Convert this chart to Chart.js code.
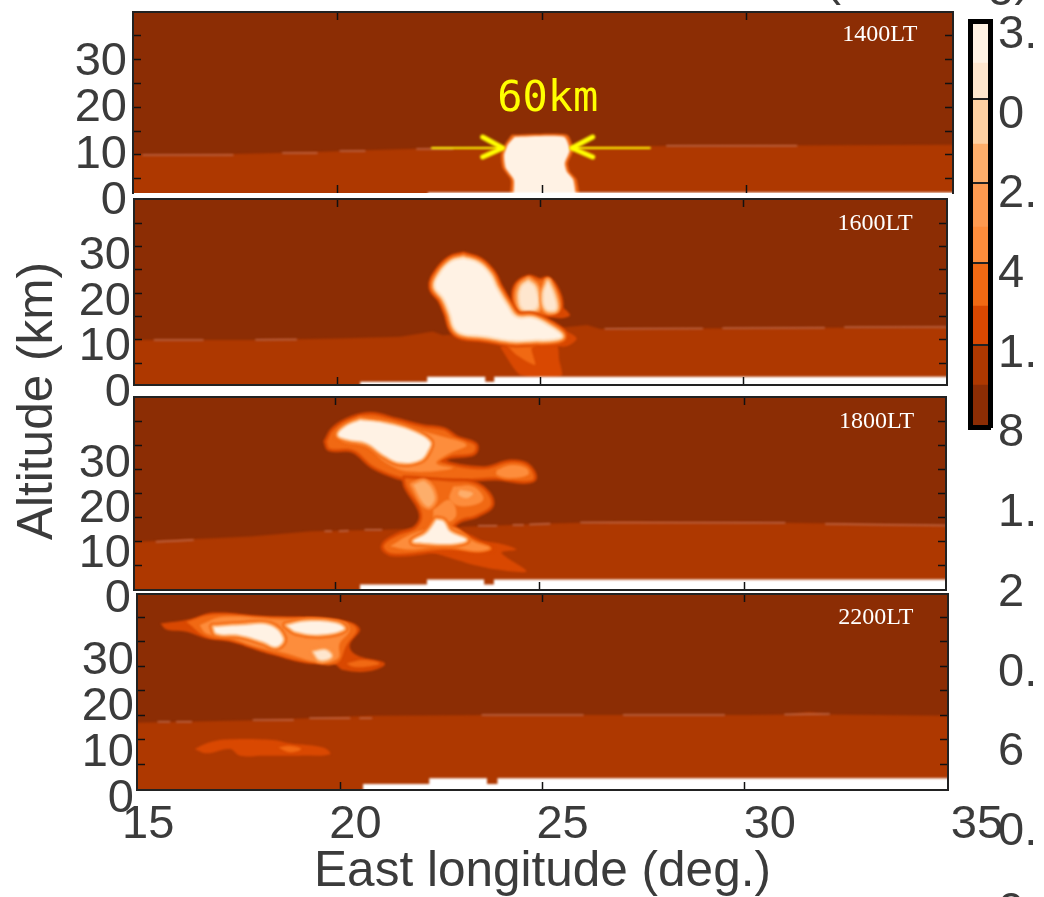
<!DOCTYPE html>
<html>
<head>
<meta charset="utf-8">
<title>Plume cross sections</title>
<script src="https://cdn.jsdelivr.net/npm/chart.js@4"></script>
<style>
body { margin: 0; background: #fff; overflow: hidden; }
canvas { position: absolute; left: 0; top: 0; }
</style>
</head>
<body>
<canvas id="p1" width="1044" height="897"></canvas>
<canvas id="p2" width="1044" height="897"></canvas>
<canvas id="p3" width="1044" height="897"></canvas>
<canvas id="p4" width="1044" height="897"></canvas>
<canvas id="bar" width="1044" height="897"></canvas>
<script>
// axis ticks and labels
const lonTicks = [20, 25, 30];
const altTicks = [5, 10, 15, 20, 25, 30, 35];
const altLabels = [0, 10, 20, 30];
const lonLabels = [15, 20, 25, 30, 35];
const barLabels = ['3.', '0', '2.', '4', '1.', '8', '1.', '2', '0.', '6', '0.', '0'];

// colour bar, bottom to top
const barBands = [0.311, 0.295, 0.289, 0.318, 0.266, 0.326, 0.288, 0.333, 0.266, 0.308];
const barLines = [0.606, 1.213, 1.805, 2.426];
const barColors = ['#8c2d04', '#ae3800', '#d94801', '#f16913', '#fd8d3c', '#fd9a50', '#fdae6b', '#fdd0a2', '#fee6ce', '#fff2e4'];

// 1400LT outlines, [lon, alt]
const p1Layer = [[14.5, -1], [14.5, 10], [17, 10.1], [19, 10.5], [21.5, 11.2], [24, 11.7], [27.7, 11.9], [35.5, 12.15], [35.5, -1]];
const p1Ground = [[22.2, 0], [22.2, 2.2], [35.5, 2.2], [35.5, 0]];
const p1Dashes = [
  [[15.23, 10], [17.43, 10]], [[18.65, 10.4], [19.49, 10.4]], [[20.05, 10.83], [20.66, 10.83]],
  [[21.93, 11.25], [22.81, 11.25]], [[28.04, 11.94], [31.22, 11.94]]
];
const p1Outer = [[24.25, 14.2], [25.6, 14.2], [25.75, 11], [25.62, 8.3], [25.67, 6.5], [25.84, 4.8], [25.87, 0], [24.25, 0], [24.23, 4.8], [24.03, 7.3], [23.99, 10], [24.08, 12.1]];
const p1Core = [[24.32, 13.8], [25.53, 13.8], [25.67, 11], [25.55, 8.3], [25.6, 6.5], [25.76, 4.8], [25.78, 0], [24.33, 0], [24.3, 4.8], [24.1, 7.3], [24.06, 10], [24.15, 12.1]];
const arrowShaftL = [[22.3, 11.46], [24, 11.46]];
const arrowHeadL = [[23.54, 13.75], [24.03, 11.46], [23.54, 9.58]];
const arrowShaftR = [[27.63, 11.46], [25.75, 11.46]];
const arrowHeadR = [[26.23, 13.75], [25.72, 11.46], [26.23, 9.58]];

// 1600LT
const p2Layer = [[14.5, -1], [14.5, 10], [18, 10], [20, 10.3], [21.55, 10.7], [22.36, 11.8], [22.6, 11], [25.67, 12.8], [26.16, 13.2], [26.48, 12.35], [30, 12.5], [35.5, 12.8], [35.5, -1]];
const p2Ground = [[20.57, -1], [20.57, 1.05], [22.22, 1.05], [22.22, 2.12], [23.65, 2.12], [23.65, 1.05], [23.87, 1.05], [23.87, 2.12], [35.5, 2.12], [35.5, -1]];
const p2Dashes = [[[15.5, 10], [16.7, 10]], [[18, 10.05], [19, 10.1]], [[26.6, 12.4], [29, 12.45]], [[29.5, 12.5], [32, 12.6]], [[32.5, 12.7], [35, 12.8]]];
const p2Plume = [[24.01, 8.58], [24.51, 2.5], [25.53, 2.3], [25.47, 5.72], [25.41, 9.29], [24.83, 10]];
const p2Wedge = [[24.18, 8.94], [24.42, 6.8], [24.88, 4.65], [24.79, 8.22], [25, 9.29], [24.42, 9.65]];
const p2Tip = [[25.41, 12.86], [25.9, 10.37], [25.61, 8.58], [25.16, 9.65]];
const p2Tail = [[24.42, 16.43], [25.41, 17.5], [25.74, 15.36], [25.49, 14.65], [24.83, 15.72]];
const p2Core = [[23.11, 27.5], [23.48, 26.43], [23.77, 23.93], [23.93, 21.08], [24.18, 17.5], [24.42, 14.86], [24.83, 14.65], [25.24, 12.86], [25.53, 10.86], [25.33, 10.15], [24.83, 10.01], [24.34, 9.87], [23.6, 10.86], [23.11, 11.29], [22.9, 12.51], [22.78, 15.72], [22.62, 18.93], [22.41, 21.43], [22.54, 24.29], [22.82, 26.79]];
const p2LobeBack = [[24.34, 16.43], [24.38, 21.43], [24.71, 23.57], [25, 22.86], [25.2, 23.22], [25.41, 21.08], [25.53, 17.5], [25.41, 15.72], [24.83, 15.36]];
const p2Lobe1 = [[24.71, 22.5], [24.88, 21.08], [24.92, 17], [24.59, 16.6], [24.49, 18.93], [24.55, 21.43]];
const p2Lobe2 = [[25.19, 22.5], [25.34, 19.65], [25.39, 16.6], [25.15, 16.6], [25.08, 19.65]];

// 1800LT
const p3Layer = [[14.5, -1], [14.5, 9.8], [17.9, 11.1], [19.4, 12.2], [21.15, 12.5], [23.3, 13.2], [25.25, 13.8], [27, 14.2], [31.4, 13.9], [35.5, 13.4], [35.5, -1]];
const p3Ground = [[20.59, -1], [20.59, 1.14], [22.23, 1.14], [22.23, 2.17], [23.63, 2.17], [23.63, 1.14], [23.87, 1.14], [23.87, 2.17], [35.5, 2.17], [35.5, -1]];
const p3Dashes = [[[15.6, 10], [16.5, 10.4]], [[19.73, 12.2], [19.89, 12.2]], [[20.08, 12.2], [20.3, 12.3]], [[20.71, 12.53], [21.12, 12.53]], [[23.49, 13.36], [23.94, 13.36]], [[24.34, 13.5], [24.59, 13.5]], [[24.75, 13.6], [25.24, 13.75]], [[26, 14], [31, 13.95]], [[32, 13.7], [35, 13.4]]];
const p3Wedge = [[22.14, 8.39], [23.2, 10.11], [23.94, 9.77], [24.43, 8.39], [24.06, 7.7], [24.67, 3.9], [23.94, 4.25], [23.2, 5.63]];
const p3Arm = [[19.77, 30.82], [19.95, 33.37], [20.42, 35.65], [20.87, 36.34], [21.48, 35.16], [22.14, 33.78], [22.63, 33.23], [22.95, 31.5], [23.4, 30.12], [23.36, 28.54], [22.79, 27.85], [22.55, 26.67], [23.61, 25.09], [24.26, 26.47], [24.67, 25.85], [24.85, 23.22], [24.59, 22.67], [23.94, 23.36], [23.12, 23.02], [21.81, 23.22], [21.53, 23.57], [20.91, 25.78], [20.42, 29.09], [19.85, 29.4]];
const p3Waist = [[21.69, 23.22], [22.79, 22.53], [23.45, 21.85], [23.81, 18.05], [23.45, 15.64], [23.04, 14.6], [22.87, 12.88], [23.45, 10.12], [23.81, 8.39], [22.63, 8.39], [21.4, 7.56], [21.17, 9.08], [21.48, 11.15], [21.97, 12.88], [22.1, 15.98], [21.73, 21.5]];
const p3LowerMid = [[21.32, 9.08], [21.81, 11.5], [22.22, 12.53], [22.87, 12.88], [23.36, 10.11], [23.77, 8.73], [23.45, 8.04], [22.63, 9.08], [21.81, 8.39]];
const p3ArmMid = [[20.1, 32.54], [20.59, 35.3], [21.81, 33.57], [22.63, 31.85], [23.2, 30.12], [22.79, 28.4], [22.46, 26.33], [22.87, 25.29], [21.81, 24.6], [21.24, 26.33], [20.75, 29.78], [20.18, 30.82]];
const p3ArmTip = [[23.94, 24.95], [24.3, 25.98], [24.67, 25.29], [24.71, 23.92], [24.26, 23.22], [23.94, 23.92]];
const p3Link = [[22.38, 16.67], [22.79, 18.74], [22.95, 15.64], [22.71, 13.91], [22.42, 14.26]];
const p3WaistL = [[21.89, 21.85], [22.18, 22.53], [22.42, 19.43], [22.3, 17.36], [22.14, 18.05]];
const p3WaistR = [[22.87, 21.5], [23.36, 21.5], [23.61, 18.74], [23.12, 17.36], [22.79, 18.74]];
const p3WaistCore = [[23.04, 20.81], [23.36, 20.12], [23.2, 19.09], [23, 19.77]];
const p3Core = [[20.59, 35.3], [21.24, 34.61], [21.81, 33.23], [22.3, 30.82], [22.26, 29.09], [22.06, 27.02], [21.57, 26.47], [21.16, 28.05], [20.75, 30.47], [20.26, 31.3], [20.05, 32.2], [20.22, 33.92]];
const p3LowerCore = [[22.46, 14.6], [22.63, 14.26], [22.79, 12.18], [23.2, 10.46], [22.87, 9.63], [22.14, 9.77], [21.89, 10.12], [22.22, 11.84]];

// 2200LT
const p4Layer = [[14.5, -1], [14.5, 13.4], [17.9, 14], [19.2, 14.4], [20.7, 14.9], [24, 15.1], [30.1, 15.1], [31.1, 15.2], [31.6, 15.7], [32.1, 15.2], [35.5, 14.9], [35.5, -1]];
const p4Ground = [[20.55, -1], [20.55, 0.98], [22.19, 0.98], [22.19, 2.14], [23.62, 2.14], [23.62, 0.98], [23.88, 0.98], [23.88, 2.14], [35.5, 2.14], [35.5, -1]];
const p4Dashes = [[[15.47, 13.71], [15.76, 13.71]], [[15.93, 13.71], [16.3, 13.71]], [[17.83, 14.05], [18.82, 14.05]], [[19.23, 14.39], [20.22, 14.39]], [[20.47, 14.39], [20.76, 14.39]], [[23.5, 15.1], [26, 15.1]], [[27, 15.1], [29.5, 15.1]], [[31, 15.2], [32.1, 15.3]]];
const p4Outer = [[15.53, 33.77], [16.26, 34.65], [16.84, 36.01], [18.07, 35.33], [19.89, 34.65], [20.47, 32.75], [20.22, 29.35], [20.39, 27.31], [21.09, 25.61], [20.72, 24.05], [20.06, 24.25], [19.81, 25.61], [19.15, 25.61], [18.32, 27.31], [17.91, 28.33], [17.25, 30.03], [16.67, 30.71], [16.17, 32.07], [15.68, 32.55]];
const p4Inner = [[16.17, 34.11], [16.84, 35.61], [18.07, 35.13], [19.89, 34.45], [20.39, 32.75], [20.14, 29.35], [19.89, 25.61], [19.15, 25.95], [18.32, 27.65], [17.91, 28.67], [17.25, 30.37], [16.67, 31.05]];
const p4Mid = [[16.5, 33.43], [17.08, 35.13], [18.4, 34.65], [20.06, 34.11], [20.22, 32.41], [19.97, 29.69], [19.93, 26.63], [19.4, 25.95], [18.65, 27.65], [17.91, 29.01], [17.17, 31.05], [16.67, 31.73]];
const p4Tip = [[20.14, 25.61], [20.55, 26.29], [20.96, 25.61], [20.63, 24.93], [20.3, 24.93]];
const p4Core1 = [[16.84, 33.09], [17.5, 33.43], [18.24, 33.43], [18.57, 30.71], [18.4, 29.01], [18.07, 30.03], [17.5, 31.39], [16.92, 31.73]];
const p4Core2 = [[18.65, 33.43], [19.15, 34.25], [19.91, 33.77], [20.08, 32.61], [19.5, 31.53], [18.9, 32.07]];
const p4Core3 = [[19.31, 27.99], [19.64, 28.33], [19.77, 26.97], [19.48, 26.29]];
const p4Low = [[16.38, 8.13], [16.75, 9.49], [17.25, 10.11], [18.32, 9.97], [18.73, 9.29], [19.56, 8.41], [19.73, 7.05], [18.98, 6.77], [18.07, 6.77], [17.5, 6.77], [17.25, 8.13], [16.67, 7.25]];
const p4LowCore = [[18.45, 8.41], [18.73, 8.81], [19.02, 8.13], [18.73, 7.45]];

const INK = '#3b3b3b';
const SANS = '"Liberation Sans", Arial, sans-serif';
const DARK = barColors[0], LAYER = barColors[1], C2 = barColors[2], C3 = barColors[3], C4 = barColors[4], C6 = barColors[6], C7 = barColors[7], C8 = barColors[8], CREAM = barColors[9];
const RIM = [[13, C2], [10, C3], [7, C4], [4, C7]];
const RIM_SMALL = [[8, C3], [5, C4], [2, C6]];

function toXY(pts, close) {
  const list = pts.map(function (p) { return { x: p[0], y: p[1] }; });
  if (close) list.push(list[0]);
  return list;
}

function area(pts, color, tension) {
  return { data: toXY(pts, true), showLine: true, fill: 'shape', backgroundColor: color, borderColor: 'transparent', borderWidth: 0, pointRadius: 0, tension: tension || 0 };
}

function edge(pts, color, width, close) {
  return { data: toXY(pts, close), showLine: true, fill: false, borderColor: color, borderWidth: width, pointRadius: 0, tension: close ? 0.4 : 0, borderCapStyle: 'round', borderJoinStyle: 'round' };
}

// smooth filled contour with rings drawn under it
function blob(pts, color, rims) {
  const sets = (rims || []).map(function (r) { return edge(pts, r[1], r[0], true); });
  sets.push(area(pts, color, 0.4));
  return sets;
}

function dashes(list) {
  return list.map(function (d) { return edge(d, '#c06a4c', 1.5, false); });
}

function fixedTicks(values) {
  return function (scale) {
    scale.ticks = values.map(function (v) { return { value: v }; });
  };
}

// the axes keep their own size, the layout padding sets the plot area
function fixSize(scale, size) {
  if (scale.isHorizontal()) scale.height = size; else scale.width = size;
  scale.paddingLeft = scale.paddingRight = scale.paddingTop = scale.paddingBottom = 0;
}

function tickAxis(position, min, max, values, showBorder) {
  return {
    type: 'linear', position: position, min: min, max: max,
    afterBuildTicks: fixedTicks(values),
    afterFit: function (s) { fixSize(s, 0); },
    ticks: { display: false },
    grid: { drawOnChartArea: false, tickLength: -8, tickColor: '#111', tickWidth: 1.5, z: 1 },
    border: { display: showBorder !== false, color: '#222', width: 2, z: 1 }
  };
}

function makePanel(cfg) {
  const sets = cfg.layers.slice();
  sets.forEach(function (d, i) { d.order = sets.length - i; d.clip = 0; });
  const scales = {
    x: tickAxis('bottom', cfg.lon[0], cfg.lon[1], lonTicks, cfg.bottomBorder),
    xTop: tickAxis('top', cfg.lon[0], cfg.lon[1], lonTicks),
    y: tickAxis('left', cfg.alt[0], cfg.alt[1], altTicks),
    yRight: tickAxis('right', cfg.alt[0], cfg.alt[1], altTicks),
    yLabel: {
      type: 'linear', position: 'left', weight: 5, min: cfg.label[0], max: cfg.label[1],
      afterBuildTicks: fixedTicks(altLabels),
      afterFit: function (s) { fixSize(s, cfg.box[0]); },
      ticks: { autoSkip: false, maxRotation: 0, padding: cfg.labelPad, color: INK, font: { family: SANS, size: 47 }, callback: function (v) { return String(v); } },
      grid: { display: false, drawTicks: false }, border: { display: false }
    }
  };
  const bottomRoom = 897 - cfg.box[3];
  if (cfg.lonAxis) {
    scales.xLabel = {
      type: 'linear', position: 'bottom', weight: 5, min: cfg.lonAxis[0], max: cfg.lonAxis[1],
      afterBuildTicks: fixedTicks(lonLabels),
      afterFit: function (s) { fixSize(s, bottomRoom); },
      ticks: { autoSkip: false, maxRotation: 0, padding: 7, color: INK, font: { family: SANS, size: 47 }, callback: function (v) { return String(v); } },
      title: { display: true, text: 'East longitude (deg.)', color: INK, font: { family: SANS, size: 49.5, lineHeight: 1 }, padding: { top: 3, bottom: 0 } },
      grid: { display: false, drawTicks: false }, border: { display: false }
    };
  }
  const notes = {
    id: 'notes',
    beforeDraw: function (chart) {
      const a = chart.chartArea;
      chart.ctx.fillStyle = DARK;
      chart.ctx.fillRect(a.left, a.top, a.right - a.left, a.bottom - a.top);
    },
    beforeDatasetsDraw: function (chart) {
      // the reference is a soft, low resolution bitmap
      chart.ctx.filter = 'blur(0.9px)';
    },
    afterDatasetsDraw: function (chart) {
      const c = chart.ctx;
      c.filter = 'none';
      c.save();
      c.textAlign = 'center';
      c.textBaseline = 'middle';
      cfg.notes.forEach(function (n) {
        c.font = n.font;
        c.fillStyle = n.color;
        c.fillText(n.text, chart.scales.x.getPixelForValue(n.lon), chart.scales.y.getPixelForValue(n.alt));
      });
      c.restore();
    }
  };
  return new Chart(document.getElementById(cfg.id), {
    type: 'scatter',
    data: { datasets: sets },
    plugins: [notes],
    options: {
      responsive: false, animation: false, events: [],
      layout: { autoPadding: false, padding: { left: 0, top: cfg.box[1], right: 1044 - cfg.box[2], bottom: cfg.lonAxis ? 0 : bottomRoom } },
      plugins: { legend: { display: false }, tooltip: { enabled: false } },
      scales: scales
    }
  });
}

function timeNote(text) {
  return { text: text, lon: 33.25, alt: 35, color: '#fff', font: '24px "Liberation Serif", serif' };
}

makePanel({
  id: 'p1', box: [133, 12, 953, 193], lon: [14.99, 35.04], alt: [2.08, 39.8], label: [1.72, 40.8], labelPad: 6, bottomBorder: false,
  notes: [timeNote('1400LT'), { text: '60km', lon: 25.13, alt: 21.46, color: '#ffff00', font: '42px "DejaVu Sans Mono", monospace' }],
  layers: [area(p1Layer, LAYER)].concat(dashes(p1Dashes),
    [area(p1Outer, C3, 0.2), area(p1Core, CREAM, 0.2), area(p1Ground, '#fff')],
    [edge(arrowShaftL, '#ffff00', 2), edge(arrowShaftR, '#ffff00', 2), edge(arrowHeadL, '#ffff00', 5), edge(arrowHeadR, '#ffff00', 5)])
});

makePanel({
  id: 'p2', box: [134, 199, 947, 385], lon: [15, 35.02], alt: [0.35, 40.2], label: [1.8, 42.4], labelPad: 3,
  notes: [timeNote('1600LT')],
  layers: [area(p2Layer, LAYER)].concat(dashes(p2Dashes),
    [area(p2Plume, C2, 0.2), area(p2Tail, C2, 0.3), area(p2Tip, C2, 0.3), area(p2Wedge, C3, 0.2)],
    blob(p2LobeBack, C3, [[4, C2]]),
    blob(p2Lobe1, C8, [[10, C4], [6, C6], [3, C7]]),
    blob(p2Lobe2, C8, [[8, C4], [5, C6], [2, C7]]),
    blob(p2Core, CREAM, RIM),
    [area(p2Ground, '#fff')])
});

makePanel({
  id: 'p3', box: [134, 397, 946, 590], lon: [15.05, 34.95], alt: [0, 40.1], label: [2.1, 44.7], labelPad: 3,
  notes: [timeNote('1800LT')],
  layers: [area(p3Layer, LAYER)].concat(dashes(p3Dashes),
    [area(p3Wedge, C2, 0.3)],
    blob(p3Arm, C3, [[6, C2]]),
    blob(p3Waist, C3, [[6, C2]]),
    blob(p3LowerMid, C4, [[3, C3]]),
    blob(p3ArmMid, C4, [[3, C3]]),
    blob(p3ArmTip, C4, [[3, C3]]),
    blob(p3Link, C4),
    blob(p3WaistL, C6, [[6, C4]]),
    blob(p3WaistR, C4),
    blob(p3WaistCore, C6, [[3, C4]]),
    blob(p3Core, CREAM, RIM_SMALL),
    blob(p3LowerCore, CREAM, RIM_SMALL),
    [area(p3Ground, '#fff')])
});

makePanel({
  id: 'p4', box: [137, 594, 948, 790], lon: [14.95, 35.04], alt: [-0.25, 39.8], label: [2, 44.5], labelPad: 3,
  lonAxis: [14.73, 34.3],
  notes: [timeNote('2200LT')],
  layers: [area(p4Layer, LAYER)].concat(dashes(p4Dashes),
    blob(p4Low, C2), blob(p4LowCore, C3),
    blob(p4Outer, C2),
    blob(p4Inner, C3),
    blob(p4Mid, C4),
    blob(p4Tip, C3),
    blob(p4Core1, CREAM, RIM_SMALL),
    blob(p4Core2, CREAM, RIM_SMALL),
    blob(p4Core3, C8, [[6, C4], [3, C6]]),
    [area(p4Ground, '#fff')])
});

// colour bar, with the clipped units text and the shared altitude title on the same canvas
new Chart(document.getElementById('bar'), {
  type: 'bar',
  data: {
    labels: [''],
    datasets: barBands.map(function (v, i) {
      return { data: [v], backgroundColor: barColors[i], barPercentage: 1, categoryPercentage: 1 };
    })
  },
  plugins: [{
    id: 'sideText',
    afterDraw: function (chart) {
      const c = chart.ctx;
      c.save();
      c.fillStyle = INK;
      c.textBaseline = 'alphabetic';
      c.font = '48px ' + SANS;
      c.fillText('(mm/deg)', 825, -5);
      c.font = '49.5px ' + SANS;
      c.translate(52, 401);
      c.rotate(-Math.PI / 2);
      c.textAlign = 'center';
      c.fillText('Altitude (km)', 0, 0);
      c.restore();
    }
  }],
  options: {
    responsive: false, animation: false, events: [],
    layout: { autoPadding: false, padding: { left: 970, top: 21.5, right: 0, bottom: 470 } },
    plugins: { legend: { display: false }, tooltip: { enabled: false } },
    scales: {
      x: {
        stacked: true, position: 'bottom',
        afterFit: function (s) { fixSize(s, 0); },
        ticks: { display: false }, grid: { display: false },
        border: { color: '#000', width: 5, z: 2 }
      },
      xTop: {
        type: 'category', position: 'top', labels: [''],
        afterFit: function (s) { fixSize(s, 0); },
        ticks: { display: false }, grid: { display: false },
        border: { color: '#000', width: 5, z: 2 }
      },
      y: {
        stacked: true, position: 'left', min: 0, max: 3,
        afterBuildTicks: fixedTicks(barLines),
        afterFit: function (s) { fixSize(s, 0); },
        ticks: { display: false },
        grid: { color: '#222', lineWidth: 2, drawTicks: false, z: 1 },
        border: { color: '#000', width: 5, z: 2 }
      },
      yEdge: {
        type: 'linear', position: 'right', weight: -1, min: 0, max: 3,
        afterFit: function (s) { fixSize(s, 0); },
        ticks: { display: false }, grid: { display: false },
        border: { color: '#000', width: 5, z: 2 }
      },
      yText: {
        type: 'linear', position: 'right', weight: 5, reverse: true, min: -0.169, max: 4.918,
        afterBuildTicks: fixedTicks(barLabels.map(function (t, i) { return i; })),
        afterFit: function (s) { fixSize(s, 54); },
        ticks: { autoSkip: false, maxRotation: 0, padding: 8, color: INK, font: { family: SANS, size: 47 }, callback: function (v) { return barLabels[v]; } },
        grid: { display: false, drawTicks: false }, border: { display: false }
      }
    }
  }
});
</script>
</body>
</html>
